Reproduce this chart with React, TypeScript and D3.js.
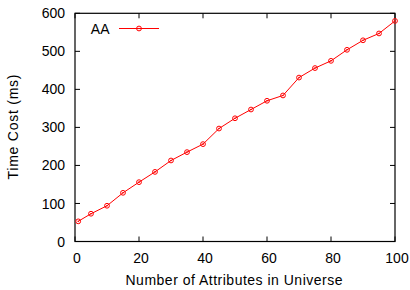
import { useEffect, useRef } from 'react';
import * as d3 from 'd3';

const attributes = [1, 5, 10, 15, 20, 25, 30, 35, 40, 45, 50, 55, 60, 65, 70, 75, 80, 85, 90, 95, 100];
const timeCost = [53, 73, 94, 128, 156, 183, 213, 235, 256, 297, 324, 347, 370, 384, 431, 456, 475, 504, 529, 547, 580];
const xTicks = [0, 20, 40, 60, 80, 100];
const yTicks = [0, 100, 200, 300, 400, 500, 600];
const seriesName = 'AA';

const W = 410;
const H = 290;
const FONT = 'Liberation Sans, Arial, Helvetica, sans-serif';

export default function App() {
  const svgRef = useRef<SVGSVGElement>(null);

  useEffect(() => {
    const svg = d3.select(svgRef.current);
    svg.selectAll('*').remove();

    const left = 75;
    const right = 395;
    const top = 13.3;
    const bottom = 241.5;
    const x = d3.scaleLinear().domain([0, 100]).range([left, right]);
    const y = d3.scaleLinear().domain([0, 600]).range([bottom, top]);
    const tick = 5;

    const g = svg.append('g');

    // inward ticks on all four sides
    yTicks.forEach((t) => {
      g.append('line').attr('x1', left).attr('x2', left + tick).attr('y1', y(t)).attr('y2', y(t)).attr('stroke', '#000');
      g.append('line').attr('x1', right).attr('x2', right - tick).attr('y1', y(t)).attr('y2', y(t)).attr('stroke', '#000');
      g.append('text')
        .attr('x', left - 10)
        .attr('y', y(t))
        .attr('dy', '0.36em')
        .attr('text-anchor', 'end')
        .attr('font-size', 14)
        .attr('font-family', FONT)
        .attr('fill', '#000')
        .text(t);
    });
    xTicks.forEach((t) => {
      g.append('line').attr('x1', x(t)).attr('x2', x(t)).attr('y1', bottom).attr('y2', bottom - tick).attr('stroke', '#000');
      g.append('line').attr('x1', x(t)).attr('x2', x(t)).attr('y1', top).attr('y2', top + tick).attr('stroke', '#000');
      g.append('text')
        .attr('x', x(t) + 2)
        .attr('y', 263)
        .attr('text-anchor', 'middle')
        .attr('font-size', 14)
        .attr('font-family', FONT)
        .attr('fill', '#000')
        .text(t);
    });

    // frame
    g.append('rect')
      .attr('x', left)
      .attr('y', top)
      .attr('width', right - left)
      .attr('height', bottom - top)
      .attr('fill', 'none')
      .attr('stroke', '#000')
      .attr('stroke-width', 1.2);

    // axis titles
    g.append('text')
      .attr('x', 234)
      .attr('y', 285)
      .attr('text-anchor', 'middle')
      .attr('font-size', 14)
      .attr('font-family', FONT)
      .attr('textLength', 217)
      .attr('lengthAdjust', 'spacing')
      .text('Number of Attributes in Universe');
    g.append('text')
      .attr('transform', `translate(18,127) rotate(-90)`)
      .attr('text-anchor', 'middle')
      .attr('font-size', 14)
      .attr('font-family', FONT)
      .attr('textLength', 105)
      .attr('lengthAdjust', 'spacing')
      .text('Time Cost (ms)');

    const pts = attributes.map((a, i) => [a, timeCost[i]] as [number, number]);
    const line = d3
      .line<[number, number]>()
      .x((d) => x(d[0]))
      .y((d) => y(d[1]));
    g.append('path').attr('d', line(pts)).attr('fill', 'none').attr('stroke', '#ff0000').attr('stroke-width', 1);

    const drawMarker = (cx: number, cy: number) => {
      g.append('circle').attr('cx', cx).attr('cy', cy).attr('r', 2.4).attr('fill', 'none').attr('stroke', '#ff0000').attr('stroke-width', 1);
      g.append('circle').attr('cx', cx).attr('cy', cy).attr('r', 0.8).attr('fill', '#ff0000');
    };
    pts.forEach((d) => drawMarker(x(d[0]), y(d[1])));

    // legend
    g.append('text')
      .attr('x', 109.5)
      .attr('y', 28.5)
      .attr('dy', '0.36em')
      .attr('text-anchor', 'end')
      .attr('font-size', 14)
      .attr('font-family', FONT)
      .text(seriesName);
    g.append('line').attr('x1', 119).attr('x2', 159).attr('y1', 28.5).attr('y2', 28.5).attr('stroke', '#ff0000');
    drawMarker(139, 28.5);
  }, []);

  return <svg ref={svgRef} width={W} height={H} style={{ position: 'absolute', left: 0, top: 0, background: '#fff' }} />;
}
